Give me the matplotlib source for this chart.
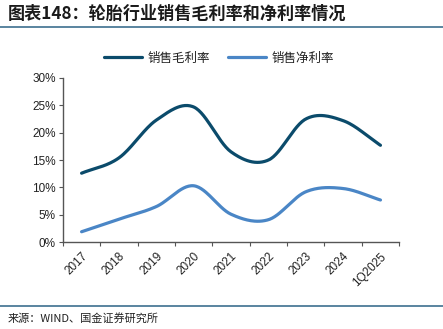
import numpy as np
import matplotlib
matplotlib.use("Agg")
import matplotlib.pyplot as plt
from matplotlib.lines import Line2D

plt.rcParams['font.family'] = ['Liberation Sans', 'Noto Sans CJK SC', 'DejaVu Sans']

# data (%)
years = ['2017', '2018', '2019', '2020', '2021', '2022', '2023', '2024', '1Q2025']
gross_margin = [12.6, 15.4, 22.3, 24.7, 16.5, 15.0, 22.5, 22.2, 17.7]
net_margin = [1.9, 4.2, 6.5, 10.3, 5.1, 4.1, 9.2, 9.8, 7.7]

c_gross = '#0b4b6b'
c_net = '#4a86c6'


def smooth(y, n=30):
    # Catmull-Rom spline like the Excel "smoothed line" option
    x = np.arange(len(y), dtype=float)
    y = np.asarray(y, dtype=float)
    px = np.concatenate([[2 * x[0] - x[1]], x, [2 * x[-1] - x[-2]]])
    py = np.concatenate([[2 * y[0] - y[1]], y, [2 * y[-1] - y[-2]]])
    xs, ys = [], []
    for i in range(1, len(px) - 2):
        t = np.linspace(0, 1, n, endpoint=(i == len(px) - 3))
        p0, p1, p2, p3 = py[i - 1], py[i], py[i + 1], py[i + 2]
        q0, q1, q2, q3 = px[i - 1], px[i], px[i + 1], px[i + 2]
        f = lambda a0, a1, a2, a3: 0.5 * (2 * a1 + (-a0 + a2) * t
                                          + (2 * a0 - 5 * a1 + 4 * a2 - a3) * t ** 2
                                          + (-a0 + 3 * a1 - 3 * a2 + a3) * t ** 3)
        xs.append(f(q0, q1, q2, q3))
        ys.append(f(p0, p1, p2, p3))
    return np.concatenate(xs), np.concatenate(ys)


fig = plt.figure(figsize=(4.43, 3.29), dpi=100)
ax = fig.add_axes([0.142, 0.264, 0.759, 0.499])

xg, yg = smooth(gross_margin)
xn, yn = smooth(net_margin)
ax.plot(xg, yg, color=c_gross, lw=2.3, solid_capstyle='round', label='销售毛利率')
ax.plot(xn, yn, color=c_net, lw=2.3, solid_capstyle='round', label='销售净利率')

ax.set_xlim(-0.5, len(years) - 0.5)
ax.set_ylim(0, 30)
ax.set_yticks(np.arange(0, 31, 5))
ax.set_yticklabels([f'{v}%' for v in range(0, 31, 5)], fontsize=8.5, color='#222222')
ax.set_xticks(range(len(years)))
ax.set_xticklabels(years, rotation=45, ha='right', rotation_mode='anchor',
                   fontsize=8.5, color='#222222')
ax.set_xticks(np.arange(-0.5, len(years)), minor=True)
ax.tick_params(axis='x', which='major', length=0, pad=6)
ax.tick_params(axis='x', which='minor', length=3, width=0.8, color='#555555', direction='out')
ax.tick_params(axis='y', length=3, width=0.8, color='#555555', direction='out', pad=2)
for s in ['top', 'right']:
    ax.spines[s].set_visible(False)
for s in ['left', 'bottom']:
    ax.spines[s].set_color('#555555')
    ax.spines[s].set_linewidth(1.0)

leg = fig.legend(loc='center', bbox_to_anchor=(0.495, 0.823), ncol=2, frameon=False,
                 handlelength=3.0, columnspacing=1.4, handletextpad=0.5,
                 prop={'family': ['Noto Sans CJK SC'], 'size': 9})
for t in leg.get_texts():
    t.set_color('#222222')

fig.text(0.018, 0.957, '图表148：轮胎行业销售毛利率和净利率情况', fontsize=12.3,
         fontweight='bold', style='italic', color='#1a1a1a', va='center',
         family=['Noto Sans CJK SC', 'DejaVu Sans'])
fig.add_artist(Line2D([0.0, 1.0], [0.918, 0.918], transform=fig.transFigure,
                      color='#3d6f8f', lw=1.2))
fig.add_artist(Line2D([0.0, 1.0], [0.07, 0.07], transform=fig.transFigure,
                      color='#3d6f8f', lw=1.2))
fig.text(0.018, 0.033, '来源：WIND、国金证券研究所', fontsize=8, color='#222222',
         va='center', family=['Noto Sans CJK SC', 'DejaVu Sans'])

fig.savefig('out.png', dpi=100)
